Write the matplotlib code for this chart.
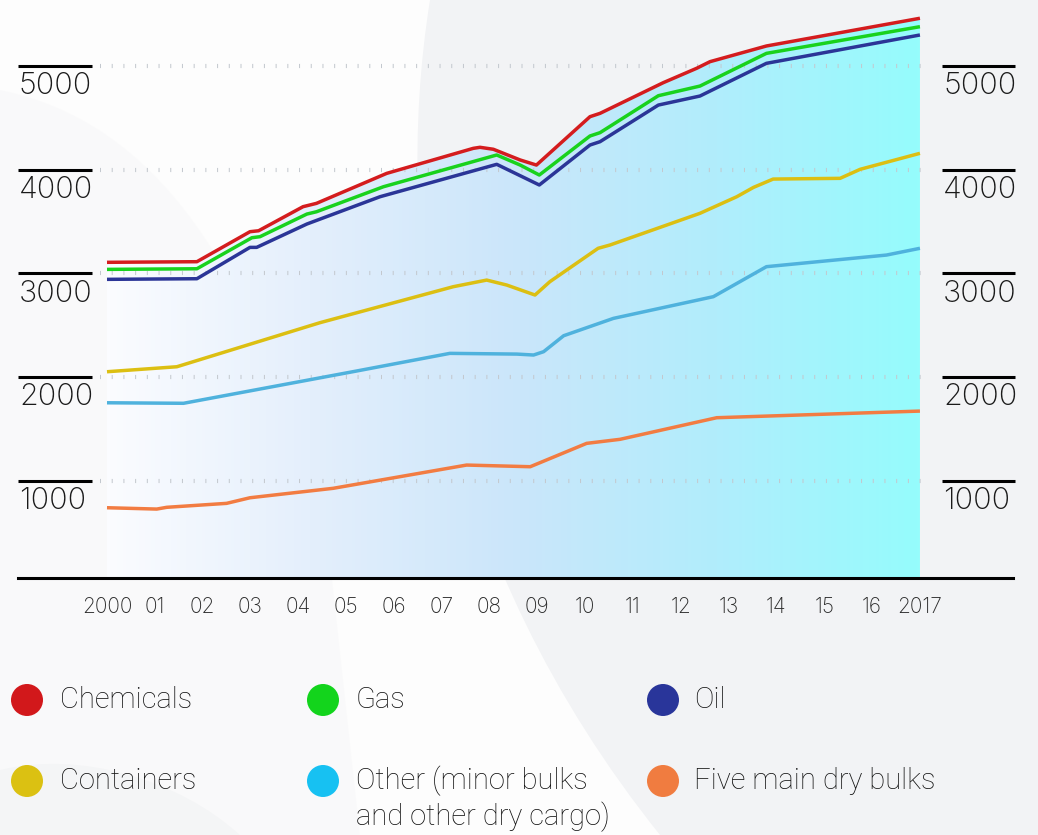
import matplotlib
matplotlib.use('Agg')
import matplotlib.pyplot as plt
import matplotlib.transforms as mtransforms
from matplotlib.colors import LinearSegmentedColormap
from matplotlib.path import Path
from matplotlib.patches import PathPatch
import numpy as np

plt.rcParams['font.family'] = ['Roboto', 'DejaVu Sans']

# ---- data (cumulative lines) ----
years = list(range(2000, 2018))
year_labels = ['2000', '01', '02', '03', '04', '05', '06', '07', '08',
               '09', '10', '11', '12', '13', '14', '15', '16', '2017']
y_ticks = [1000, 2000, 3000, 4000, 5000]

chem_x = [2000, 2001.88, 2002.99, 2003.17, 2004.1, 2004.38, 2005.85, 2007.66,
          2007.8, 2008.08, 2008.64, 2008.98, 2010.1, 2010.31, 2011.63, 2012.33,
          2012.61, 2013.79, 2017]
chem_y = [3106, 3112, 3401, 3410, 3642, 3674, 3963, 4204,
          4214, 4195, 4092, 4043, 4509, 4541, 4836, 4975,
          5039, 5190, 5457]

gas_x = [2000, 2001.88, 2003.03, 2003.2, 2004.18, 2004.38, 2005.78, 2008.15,
         2008.64, 2009.04, 2010.1, 2010.31, 2011.53, 2012.4, 2013.79, 2017]
gas_y = [3038, 3044, 3343, 3353, 3571, 3593, 3834, 4140,
         4043, 3947, 4323, 4355, 4711, 4804, 5119, 5376]

oil_x = [2000, 2001.88, 2002.99, 2003.13, 2004.18, 2005.71, 2008.15, 2009.04,
         2010.1, 2010.31, 2011.53, 2012.4, 2013.79, 2017]
oil_y = [2942, 2948, 3250, 3250, 3475, 3738, 4050, 3851,
         4236, 4268, 4621, 4708, 5023, 5296]

cont_x = [2000, 2001.46, 2004.45, 2007.24, 2007.94, 2008.36, 2008.95, 2009.26,
          2010.27, 2010.52, 2012.4, 2013.17, 2013.52, 2013.93, 2015.33, 2015.75, 2017]
cont_y = [2052, 2100, 2524, 2871, 2935, 2887, 2791, 2919,
          3241, 3273, 3578, 3738, 3828, 3908, 3915, 4002, 4156]

other_x = [2000, 2001.6, 2005.22, 2007.17, 2008.57, 2008.92, 2009.13, 2009.55,
           2010.59, 2012.68, 2013.79, 2016.3, 2017]
other_y = [1753, 1748, 2059, 2229, 2222, 2213, 2245, 2399,
           2566, 2775, 3064, 3176, 3241]

dry_x = [2000, 2001.04, 2001.25, 2002.5, 2002.99, 2004.73, 2007.52, 2008.85,
         2009.05, 2010.03, 2010.73, 2012.75, 2017]
dry_y = [742, 729, 746, 784, 838, 929, 1153, 1137,
         1175, 1362, 1401, 1609, 1673]

series = [
    ('Five main dry bulks', dry_x, dry_y, '#f27c42', '#f07c40'),
    ('Other (minor bulks\nand other dry cargo)', other_x, other_y, '#4fb2dd', '#17c1f2'),
    ('Containers', cont_x, cont_y, '#dcbf12', '#dbc112'),
    ('Oil', oil_x, oil_y, '#2b3597', '#29359a'),
    ('Gas', gas_x, gas_y, '#19d21d', '#13d41c'),
    ('Chemicals', chem_x, chem_y, '#d41c1e', '#d2181b'),
]

W, H = 1038, 835
fig = plt.figure(figsize=(W / 100, H / 100), dpi=100)
fig.patch.set_facecolor('#f2f3f5')

# background decoration
bg = fig.add_axes([0, 0, 1, 1], zorder=0)
bg.set_xlim(0, W)
bg.set_ylim(H, 0)
bg.axis('off')
verts = [(0, 0), (430, 0), (390, 250), (440, 560), (660, 835),
         (240, 835), (180, 780), (80, 750), (0, 770), (0, 0)]
codes = [Path.MOVETO, Path.LINETO, Path.CURVE4, Path.CURVE4, Path.CURVE4,
         Path.LINETO, Path.CURVE4, Path.CURVE4, Path.CURVE4, Path.CLOSEPOLY]
bg.add_patch(PathPatch(Path(verts, codes), facecolor='#fdfdfd', edgecolor='none'))
verts2 = [(0, 90), (150, 120), (260, 260), (330, 560), (360, 835), (0, 835), (0, 90)]
codes2 = [Path.MOVETO, Path.CURVE4, Path.CURVE4, Path.CURVE4,
          Path.LINETO, Path.LINETO, Path.CLOSEPOLY]
bg.add_patch(PathPatch(Path(verts2, codes2), facecolor='#f7f7f8', edgecolor='none', alpha=0.5))

# main chart axes
ax = fig.add_axes([18 / W, (H - 578) / H, 995 / W, 578 / H], zorder=1)
ax.patch.set_alpha(0)
x0 = 2000 + (18 - 107) / 47.82
x1 = 2000 + (1013 - 107) / 47.82
ymin, ymax = 65, 5633

# gradient area under the top line
poly = ax.fill_between(chem_x, ymin, chem_y, facecolor='none', edgecolor='none')
cmap = LinearSegmentedColormap.from_list(
    'fade', ['#fbfcff', '#e4effc', '#cbe6fa', '#b1edfc', '#95fcfc'])
grad = np.linspace(0, 1, 256).reshape(1, -1)
im = ax.imshow(grad, extent=[2000, 2017, ymin, ymax], aspect='auto',
               cmap=cmap, origin='lower', zorder=0.5)
im.set_clip_path(poly.get_paths()[0], transform=ax.transData)

# dotted grid
for v in y_ticks:
    ax.plot([1999.85, 2017.2], [v, v], color='#c3c8ce', lw=3,
            dashes=(0.24, 2.57), dash_capstyle='butt', zorder=1)

for name, xs, ys, c, lc in series:
    ax.plot(xs, ys, color=c, lw=2.5, solid_joinstyle='round',
            solid_capstyle='butt', zorder=3)

ax.set_xlim(x0, x1)
ax.set_ylim(ymin, ymax)
for s in ['top', 'left', 'right']:
    ax.spines[s].set_visible(False)
ax.spines['bottom'].set_color('black')
ax.spines['bottom'].set_linewidth(2.2)
ax.set_yticks([])
ax.set_xticks(years)
ax.set_xticklabels(year_labels, fontsize=15, color='#2b2b2b',
                   family=['Inter', 'DejaVu Sans'], fontweight='light')
ax.tick_params(axis='x', length=0, pad=14)

# y tick marks: bar above each label, both sides
blend = mtransforms.blended_transform_factory(ax.transAxes, ax.transData)
for v in y_ticks:
    for xa, xb in [(0.0, 74 / 995), (924 / 995, 997 / 995)]:
        ax.plot([xa, xb], [v, v], transform=blend, color='black', lw=2.2,
                solid_capstyle='butt', clip_on=False, zorder=4)
        ax.annotate(str(v), xy=(xa + 1 / 995, v), xycoords=blend,
                    xytext=(0, -4.5), textcoords='offset points',
                    ha='left', va='top', fontsize=22, fontweight='light',
                    family=['Inter', 'DejaVu Sans'],
                    color='#1a1a1a', annotation_clip=False)

# legend
legend_pos = [(27, 700, 60), (323, 700, 356), (663, 700, 694),
              (27, 781, 60), (323, 781, 356), (663, 781, 694)]
legend_order = ['Chemicals', 'Gas', 'Oil', 'Containers',
                'Other (minor bulks\nand other dry cargo)', 'Five main dry bulks']
lookup = {s[0]: s for s in series}
for (cx, cy, tx), name in zip(legend_pos, legend_order):
    bg.scatter([cx], [cy], s=(32 * 0.72) ** 2, color=lookup[name][4],
               edgecolors='none', zorder=5)
    for k, line in enumerate(name.split('\n')):
        bg.text(tx, cy + k * 36, line, ha='left', va='center', fontsize=21,
                fontweight='light', color='#111111', zorder=5)

fig.savefig('out.png', dpi=100, facecolor=fig.get_facecolor())
